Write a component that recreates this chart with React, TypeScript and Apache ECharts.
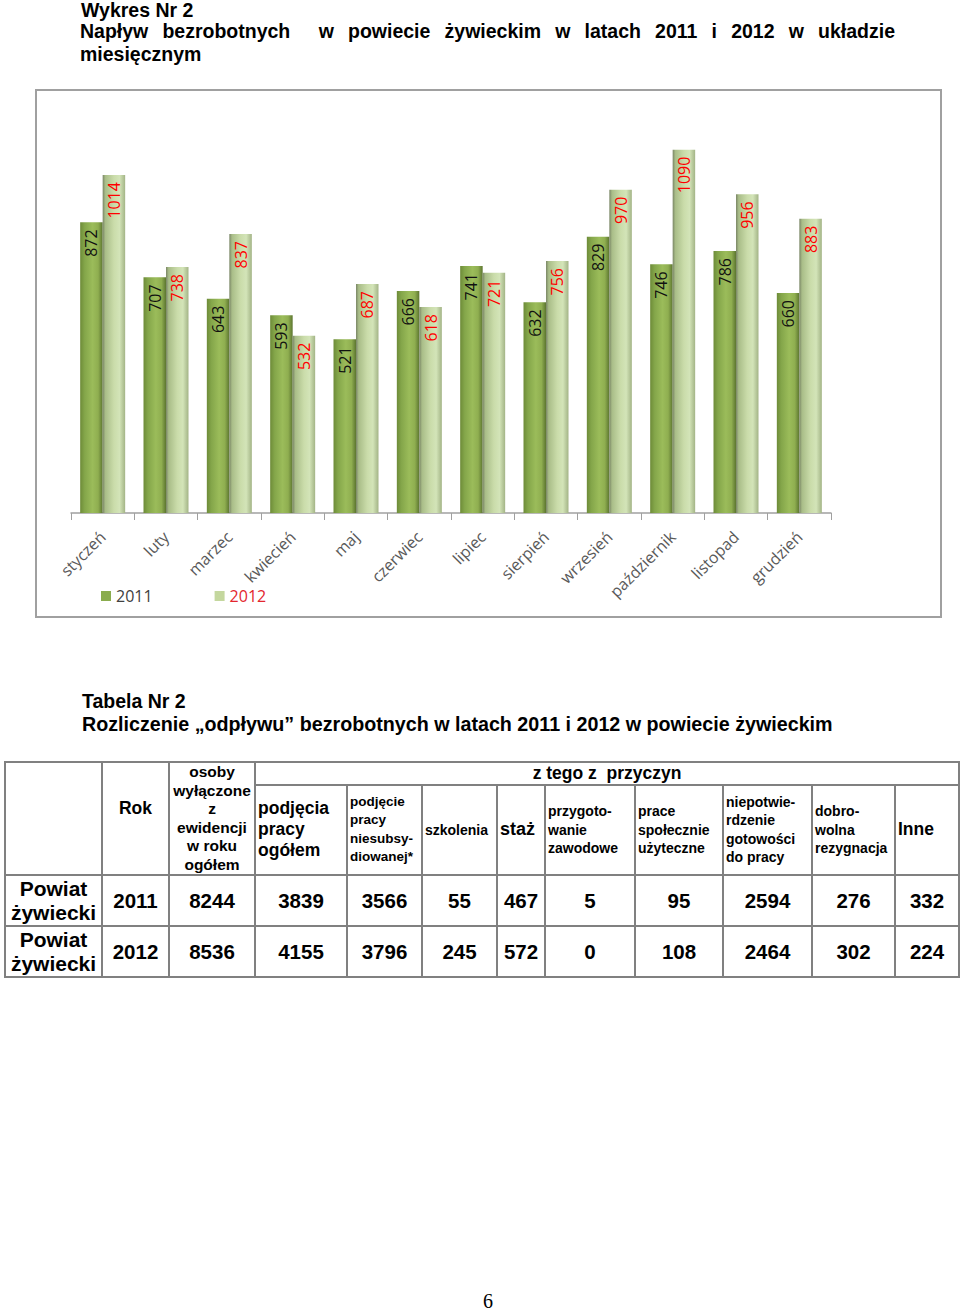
import React, { useEffect, useRef } from "react";
import * as echarts from "echarts";

// ---------- chart data ----------
const months = [
  "styczeń", "luty", "marzec", "kwiecień", "maj", "czerwiec",
  "lipiec", "sierpień", "wrzesień", "październik", "listopad", "grudzień",
];
const inflow2011 = [872, 707, 643, 593, 521, 666, 741, 632, 829, 746, 786, 660];
const inflow2012 = [1014, 738, 837, 532, 687, 618, 721, 756, 970, 1090, 956, 883];
const seriesNames = ["2011", "2012"];

// ---------- table data ----------
const regionName = ["Powiat", "żywiecki"];
const tableYears = ["2011", "2012"];
const outflow2011 = [8244, 3839, 3566, 55, 467, 5, 95, 2594, 276, 332];
const outflow2012 = [8536, 4155, 3796, 245, 572, 0, 108, 2464, 302, 224];
const headerRok = "Rok";
const headerTotal = ["osoby", "wyłączone", "z", "ewidencji", "w roku", "ogółem"];
const headerGroup = "z tego z\u00a0 przyczyn";
const reasonHeaders = [
  ["podjęcia", "pracy", "ogółem"],
  ["podjęcie", "pracy", "niesubsy-", "diowanej*"],
  ["szkolenia"],
  ["staż"],
  ["przygoto-", "wanie", "zawodowe"],
  ["prace", "społecznie", "użyteczne"],
  ["niepotwie-", "rdzenie", "gotowości", "do pracy"],
  ["dobro-", "wolna", "rezygnacja"],
  ["Inne"],
];

// ---------- styles ----------
const chartFont = '"Open Sans", "Noto Sans", sans-serif';
const docFont = '"Liberation Sans", Arial, sans-serif';
const colWidths = [97, 67, 86, 92, 75, 75, 48, 90, 88, 89, 83, 64];
const reasonFont = [
  { fs: 17.5, lh: 21 },
  { fs: 13.5, lh: 18.5 },
  { fs: 14, lh: 18.5 },
  { fs: 18, lh: 21 },
  { fs: 14, lh: 18.5 },
  { fs: 14, lh: 18.5 },
  { fs: 14, lh: 18.5 },
  { fs: 14, lh: 18.5 },
  { fs: 17.5, lh: 21 },
];
const border = "2px solid #808080";

function Chart() {
  const ref = useRef<HTMLDivElement>(null);
  useEffect(() => {
    if (!ref.current) return;
    const chart = echarts.init(ref.current, null, { renderer: "svg" });
    const grad2011 = {
      type: "linear", x: 0, y: 0, x2: 1, y2: 0,
      colorStops: [
        { offset: 0, color: "#6d8b38" },
        { offset: 0.2, color: "#84a64a" },
        { offset: 0.55, color: "#9bbc5a" },
        { offset: 0.8, color: "#8fae50" },
        { offset: 1, color: "#5c7530" },
      ],
    };
    const grad2012 = {
      type: "linear", x: 0, y: 0, x2: 1, y2: 0,
      colorStops: [
        { offset: 0, color: "#7a8666" },
        { offset: 0.12, color: "#a9bd88" },
        { offset: 0.5, color: "#cadcaa" },
        { offset: 0.75, color: "#d3e4b8" },
        { offset: 1, color: "#a3b486" },
      ],
    };
    const labelBase = {
      show: true,
      position: "insideTop",
      rotate: 90,
      align: "right",
      verticalAlign: "middle",
      distance: 7,
      fontSize: 16,
      fontFamily: chartFont,
    };
    chart.setOption({
      animation: false,
      textStyle: { fontFamily: chartFont },
      graphic: [
        {
          type: "rect",
          silent: true,
          shape: { x: 1, y: 1, width: 905, height: 527 },
          style: { fill: "none", stroke: "#a0a0a0", lineWidth: 2 },
        },
      ],
      legend: {
        left: 61,
        top: 494,
        itemWidth: 10,
        itemHeight: 10,
        itemGap: 62,
        icon: "rect",
        textStyle: { fontSize: 16, fontFamily: chartFont },
        data: [
          { name: seriesNames[0], itemStyle: { color: "#8aac4e" }, textStyle: { color: "#404040" } },
          { name: seriesNames[1], itemStyle: { color: "#c4d79e" }, textStyle: { color: "#e3262e" } },
        ],
      },
      grid: { left: 36, right: 111, top: 24, bottom: 105, containLabel: false, outerBoundsMode: "none" },
      xAxis: {
        type: "category",
        data: months,
        axisLine: { lineStyle: { color: "#a0a0a0", width: 1.5 } },
        axisTick: { show: true, length: 7, alignWithLabel: false, lineStyle: { color: "#a0a0a0" } },
        axisLabel: { rotate: 45, interval: 0, margin: 21, fontSize: 16, color: "#595959", fontFamily: chartFont },
      },
      yAxis: { type: "value", min: 0, max: 1200, show: false, splitLine: { show: false } },
      series: [
        {
          name: seriesNames[0],
          type: "bar",
          data: inflow2011,
          barWidth: 22.5,
          barGap: "0%",
          itemStyle: { color: grad2011 },
          label: { ...labelBase, color: "#111111" },
        },
        {
          name: seriesNames[1],
          type: "bar",
          data: inflow2012,
          barWidth: 22.5,
          barGap: "0%",
          itemStyle: { color: grad2012 },
          label: { ...labelBase, color: "#ff0000" },
        },
      ],
    });
    return () => chart.dispose();
  }, []);
  return (
    <div
      ref={ref}
      style={{ position: "absolute", left: 35, top: 89, width: 907, height: 529 }}
    />
  );
}

function Lines({ lines }: { lines: string[] }) {
  return (
    <>
      {lines.map((l, i) => (
        <React.Fragment key={i}>
          {i > 0 && <br />}
          {l}
        </React.Fragment>
      ))}
    </>
  );
}

function Table() {
  const cell: React.CSSProperties = { border, padding: 0 };
  const rows = [outflow2011, outflow2012];
  return (
    <table
      style={{
        position: "absolute",
        left: 4,
        top: 761,
        width: 955,
        borderCollapse: "collapse",
        tableLayout: "fixed",
        fontFamily: docFont,
        fontWeight: "bold",
        color: "#000",
      }}
    >
      <colgroup>
        {colWidths.map((w, i) => (
          <col key={i} style={{ width: w }} />
        ))}
      </colgroup>
      <tbody>
        <tr style={{ height: 22 }}>
          <td rowSpan={2} style={cell}></td>
          <td rowSpan={2} style={{ ...cell, textAlign: "center", fontSize: 17.5, paddingBottom: 20 }}>
            {headerRok}
          </td>
          <td rowSpan={2} style={{ ...cell, textAlign: "center", fontSize: 15.5, lineHeight: "18.5px" }}>
            <Lines lines={headerTotal} />
          </td>
          <td
            colSpan={9}
            style={{ ...cell, textAlign: "center", fontSize: 17.5, lineHeight: "20px", whiteSpace: "pre" }}
          >
            {headerGroup}
          </td>
        </tr>
        <tr style={{ height: 88 }}>
          {reasonHeaders.map((h, i) => (
            <td
              key={i}
              style={{
                ...cell,
                paddingLeft: 2,
                textAlign: "left",
                fontSize: reasonFont[i].fs,
                lineHeight: reasonFont[i].lh + "px",
                verticalAlign: "middle",
              }}
            >
              <Lines lines={h} />
            </td>
          ))}
        </tr>
        {rows.map((r, ri) => (
          <tr key={ri} style={{ height: 51 }}>
            <td style={{ ...cell, textAlign: "center", fontSize: 21, lineHeight: "24px" }}>
              <Lines lines={regionName} />
            </td>
            <td style={{ ...cell, textAlign: "center", fontSize: 20.5 }}>{tableYears[ri]}</td>
            {r.map((v, vi) => (
              <td key={vi} style={{ ...cell, textAlign: "center", fontSize: 20.5 }}>
                {v}
              </td>
            ))}
          </tr>
        ))}
      </tbody>
    </table>
  );
}

export default function App() {
  const txt: React.CSSProperties = {
    position: "absolute",
    fontFamily: docFont,
    fontWeight: "bold",
    fontSize: 19.5,
    lineHeight: "23px",
    color: "#000",
    margin: 0,
  };
  return (
    <div
      style={{
        position: "absolute",
        left: 0,
        top: 0,
        width: 960,
        height: 1311,
        background: "#fff",
        overflow: "hidden",
      }}
    >
      <div style={{ ...txt, left: 81, top: 0, lineHeight: "20px" }}>Wykres Nr 2</div>
      <div style={{ ...txt, left: 80, top: 20, width: 815, textAlign: "justify", textAlignLast: "justify" }}>
        {"Napływ bezrobotnych\u00a0 w powiecie żywieckim w latach 2011 i 2012 w układzie"}
      </div>
      <div style={{ ...txt, left: 80, top: 43 }}>miesięcznym</div>

      <Chart />

      <div style={{ ...txt, left: 82, top: 690 }}>Tabela Nr 2</div>
      <div style={{ ...txt, left: 82, top: 713, whiteSpace: "nowrap", fontSize: 19.7 }}>
        {"Rozliczenie \u201eodpływu\u201d bezrobotnych w latach 2011 i 2012 w powiecie żywieckim"}
      </div>

      <Table />

      <div
        style={{
          position: "absolute",
          left: 478,
          top: 1292,
          width: 20,
          textAlign: "center",
          fontFamily: '"Liberation Serif", "Times New Roman", serif',
          fontSize: 20,
          lineHeight: "18px",
          color: "#000",
        }}
      >
        6
      </div>
    </div>
  );
}
